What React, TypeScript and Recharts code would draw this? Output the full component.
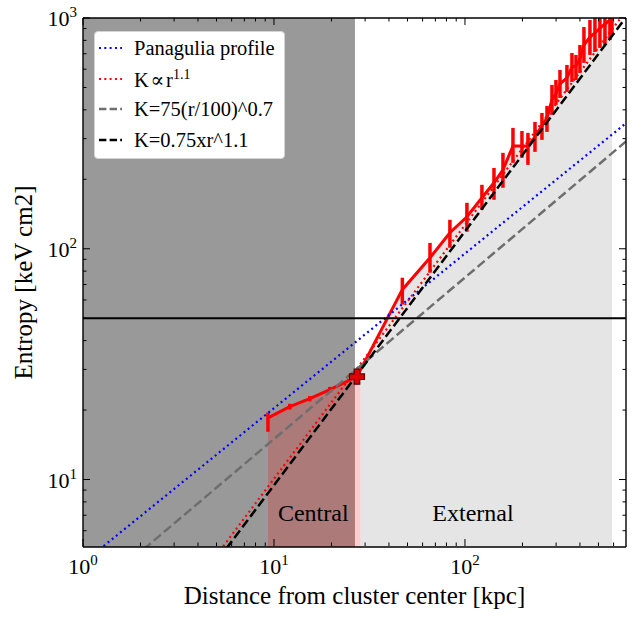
import React from 'react';
import {
  ComposedChart,
  Line,
  Area,
  XAxis,
  YAxis,
  ErrorBar,
  Scatter,
  ReferenceDot,
  Legend,
} from 'recharts';

const SERIF = '"Liberation Serif", "Times New Roman", "DejaVu Serif", serif';

// Axis ranges: radius in kpc, entropy in keV cm^2
const R_RANGE: [number, number] = [1, 697];
const K_RANGE: [number, number] = [5.1, 1000];

const xTicks = [
  1, 2, 3, 4, 5, 6, 7, 8, 9, 10, 20, 30, 40, 50, 60, 70, 80, 90, 100, 200, 300, 400, 500, 600,
];
const yTicks = [
  6, 7, 8, 9, 10, 20, 30, 40, 50, 60, 70, 80, 90, 100, 200, 300, 400, 500, 600, 700, 800, 900, 1000,
];

// Measured entropy profile
const radius = [
  9.3, 12.1, 15.4, 19.6, 27.2, 47.0, 65.6, 83.4, 102.4, 122.7, 141.9, 158.1, 178.4, 198.8, 213.7,
  232.6, 253.0, 268.8, 285.5, 299.5, 314.4, 342.0, 363.3, 381.3, 400.0, 419.8, 451.3, 479.3, 509.0,
  540.8, 574.3, 588.5,
];
const entropy = [
  18.5, 20.7, 22.4, 24.5, 27.9, 66.5, 91.4, 117.3, 137.6, 166.3, 193.1, 219.8, 279.1, 279.0, 279.0,
  305.3, 340.8, 369.1, 441.6, 468.8, 518.1, 550.0, 613.7, 619.8, 664.6, 764.0, 827.6, 861.0, 905.0,
  942.0, 980.0, 1000.0,
];
const entropyLow = [
  16.1, 20.1, 21.8, 23.8, 27.1, 57.3, 78.7, 101.0, 118.5, 147.5, 163.0, 183.8, 235.6, 247.7, 231.0,
  263.0, 296.4, 321.0, 380.2, 420.2, 450.4, 478.2, 528.4, 539.0, 578.0, 639.0, 691.6, 712.6, 741.8,
  764.0, 803.0, 844.0,
];
const entropyHigh = [
  19.5, 21.3, 23.0, 25.2, 28.7, 74.9, 106.0, 133.5, 158.2, 189.3, 224.0, 260.4, 334.0, 324.0, 318.0,
  354.6, 387.8, 415.9, 512.9, 539.0, 595.6, 626.0, 705.5, 691.6, 764.0, 914.0, 980.0, 1000.0, 1000.0,
  1000.0, 1000.0, 1000.0,
];

// Shaded regions
const coreRadius = [0.5, 26.55];
const centralFillR = [9.3, 12.1, 15.4, 19.6, 27.2, 28.3];
const centralFillK = [18.5, 20.7, 22.4, 24.5, 27.9, 29.7];
const externalStartR = 28.3;
const externalStartK = 29.7;

// Model curves (end points over the plotted range)
const panaguliaR = [1, 697];
const panaguliaK = [4.36, 350];
const slopeFitR = [1, 697];
const slopeFitK = [0.8, 1073];
const baselineR = [1, 697];
const baselineK = [2.99, 292];
const scaledR = [1, 697];
const scaledK = [0.75, 1007];
const floorR = [0.5, 800];
const floorK = [50, 50];

// Boundary marker
const markerR = [27.2];
const markerK = [27.9];

const FLOOR = 1;
const CEIL = 5000;

const profileRows = radius.map((r, i) => ({
  r,
  K: entropy[i],
  err: [entropy[i] - entropyLow[i], entropyHigh[i] - entropy[i]],
}));
const coreRows = coreRadius.map((r) => ({ r, band: [FLOOR, CEIL] }));
const centralRows = centralFillR.map((r, i) => ({ r, band: [FLOOR, centralFillK[i]] }));
const externalRows = [
  { r: externalStartR, band: [FLOOR, externalStartK] },
  ...radius.slice(5).map((r, i) => ({ r, band: [FLOOR, entropy[i + 5]] })),
];
const toRows = (rs: number[], ks: number[]) => rs.map((r, i) => ({ r, K: ks[i] }));
const panaguliaRows = toRows(panaguliaR, panaguliaK);
const slopeFitRows = toRows(slopeFitR, slopeFitK);
const baselineRows = toRows(baselineR, baselineK);
const scaledRows = toRows(scaledR, scaledK);
const floorRows = toRows(floorR, floorK);
const markerRows = toRows(markerR, markerK);

const legendEntries = [
  { text: 'Panagulia profile', sup: '', color: '#0000ff', dash: '2 3.3', width: 2.2 },
  { text: 'K\u200a\u221d\u200ar', sup: '1.1', color: '#ff0000', dash: '2 3.3', width: 2.2 },
  { text: 'K=75(r/100)^0.7', sup: '', color: '#6e6e6e', dash: '7.4 3.2', width: 2.5 },
  { text: 'K=0.75xr^1.1', sup: '', color: '#000000', dash: '7.4 3.2', width: 2.5 },
];

const isDecade = (v: number) => Math.abs(Math.log10(v) - Math.round(Math.log10(v))) < 1e-6;
const MAJOR = 7;
const MINOR = 3.5;

const PowerLabel = ({ x, y, v, anchor }: { x: number; y: number; v: number; anchor: string }) => (
  <text x={x} y={y} textAnchor={anchor} fontFamily={SERIF} fontSize={22} fill="#000">
    10
    <tspan dy={-9} fontSize={15}>
      {Math.round(Math.log10(v))}
    </tspan>
  </text>
);

// Axis boxes are 1px thick; tick coordinates are shifted back onto the frame line.
const BottomTick = (p: any) => {
  const major = isDecade(p.payload.value);
  const y = p.y - 1;
  return (
    <g>
      <line x1={p.x} x2={p.x} y1={y} y2={y - (major ? MAJOR : MINOR)} stroke="#000" strokeWidth={1} />
      {major && <PowerLabel x={p.x} y={y + 28} v={p.payload.value} anchor="middle" />}
    </g>
  );
};
const TopTick = (p: any) => {
  const major = isDecade(p.payload.value);
  return <line x1={p.x} x2={p.x} y1={p.y} y2={p.y + (major ? MAJOR : MINOR)} stroke="#000" strokeWidth={1} />;
};
const LeftTick = (p: any) => {
  const major = isDecade(p.payload.value);
  return (
    <g>
      <line x1={p.x} x2={p.x + (major ? MAJOR : MINOR)} y1={p.y} y2={p.y} stroke="#000" strokeWidth={1} />
      {major && <PowerLabel x={p.x - 6} y={p.y + 8} v={p.payload.value} anchor="end" />}
    </g>
  );
};
const RightTick = (p: any) => {
  const major = isDecade(p.payload.value);
  return <line x1={p.x} x2={p.x - (major ? MAJOR : MINOR)} y1={p.y} y2={p.y} stroke="#000" strokeWidth={1} />;
};

const PlusMarker = (props: any) => {
  const { cx, cy } = props;
  const a = 7.5;
  const t = 2.8;
  const d = `M${cx - t},${cy - a} H${cx + t} V${cy - t} H${cx + a} V${cy + t} H${cx + t} V${cy + a} H${cx - t} V${cy + t} H${cx - a} V${cy - t} H${cx - t} Z`;
  return <path d={d} fill="#e00000" stroke="#5a0000" strokeWidth={1.2} />;
};

const LegendBox = () => (
  <div
    style={{
      width: 191,
      height: 128,
      boxSizing: 'border-box',
      background: '#ffffff',
      border: '1px solid #d4d4d4',
      borderRadius: 4,
      paddingTop: 1,
      fontFamily: SERIF,
      fontSize: 20.5,
      lineHeight: 1,
      color: '#000',
    }}
  >
    {legendEntries.map((e) => (
      <div key={e.text} style={{ height: 30.5, display: 'flex', alignItems: 'center' }}>
        <svg width={39} height={10} style={{ flex: 'none' }}>
          <line x1={4} x2={27} y1={5} y2={5} stroke={e.color} strokeWidth={e.width} strokeDasharray={e.dash} />
        </svg>
        <span style={{ whiteSpace: 'nowrap' }}>
          {e.text}
          {e.sup && <sup style={{ fontSize: 14, verticalAlign: 8 }}>{e.sup}</sup>}
        </span>
      </div>
    ))}
  </div>
);

const labelStyle = { fontSize: 25, fill: '#000', fontFamily: SERIF };

export default function App() {
  return (
    <div style={{ position: 'absolute', left: 0, top: 0 }}>
      <ComposedChart
        width={635}
        height={618}
        margin={{ top: 17, right: 8, bottom: 70, left: 82 }}
        style={{ fontFamily: SERIF }}
      >
        <XAxis
          xAxisId={0}
          dataKey="r"
          type="number"
          scale="log"
          domain={R_RANGE}
          allowDataOverflow
          ticks={xTicks}
          interval={0}
          height={1}
          tickSize={0}
          tickMargin={0}
          tickLine={false}
          tick={BottomTick}
          axisLine={{ stroke: '#000', strokeWidth: 1.4 }}
          label={{ value: 'Distance from cluster center [kpc]', position: 'bottom', offset: 38, ...labelStyle }}
        />
        <XAxis
          xAxisId="top"
          orientation="top"
          dataKey="r"
          type="number"
          scale="log"
          domain={R_RANGE}
          allowDataOverflow
          ticks={xTicks}
          interval={0}
          height={1}
          tickSize={0}
          tickMargin={0}
          tickLine={false}
          tick={TopTick}
          axisLine={{ stroke: '#000', strokeWidth: 1.4 }}
        />
        <YAxis
          yAxisId={0}
          type="number"
          scale="log"
          domain={K_RANGE}
          allowDataOverflow
          ticks={yTicks}
          interval={0}
          width={1}
          tickSize={0}
          tickMargin={0}
          tickLine={false}
          tick={LeftTick}
          axisLine={{ stroke: '#000', strokeWidth: 1.4 }}
          label={{
            value: 'Entropy [keV cm2]',
            angle: -90,
            position: 'left',
            offset: 59,
            ...labelStyle,
            style: { textAnchor: 'middle' },
          }}
        />
        <YAxis
          yAxisId="right"
          orientation="right"
          type="number"
          scale="log"
          domain={K_RANGE}
          allowDataOverflow
          ticks={yTicks}
          interval={0}
          width={1}
          tickSize={0}
          tickMargin={0}
          tickLine={false}
          tick={RightTick}
          axisLine={{ stroke: '#000', strokeWidth: 1.4 }}
        />

        {/* shaded regions */}
        <Area data={coreRows} dataKey="band" type="linear" stroke="none" fill="#999999" fillOpacity={1} isAnimationActive={false} />
        <Area data={externalRows} dataKey="band" type="linear" stroke="none" fill="#e5e5e5" fillOpacity={1} isAnimationActive={false} />
        <Area data={centralRows} dataKey="band" type="linear" stroke="none" fill="#ff0000" fillOpacity={0.2} isAnimationActive={false} />

        {/* measured profile */}
        <Line data={profileRows} dataKey="K" type="linear" stroke="#ff0000" strokeWidth={3} dot={false} activeDot={false} isAnimationActive={false}>
          <ErrorBar dataKey="err" direction="y" width={0} stroke="#ff0000" strokeWidth={3.5} />
        </Line>

        {/* models */}
        <Line data={panaguliaRows} dataKey="K" type="linear" stroke="#0000ff" strokeWidth={2.2} strokeDasharray="2 3.3" dot={false} activeDot={false} isAnimationActive={false} />
        <Line data={slopeFitRows} dataKey="K" type="linear" stroke="#ff0000" strokeWidth={2.2} strokeDasharray="2 3.3" dot={false} activeDot={false} isAnimationActive={false} />
        <Line data={baselineRows} dataKey="K" type="linear" stroke="#6e6e6e" strokeWidth={2.5} strokeDasharray="9.25 4" dot={false} activeDot={false} isAnimationActive={false} />
        <Line data={scaledRows} dataKey="K" type="linear" stroke="#000000" strokeWidth={2.5} strokeDasharray="9.25 4" dot={false} activeDot={false} isAnimationActive={false} />
        <Line data={floorRows} dataKey="K" type="linear" stroke="#000000" strokeWidth={2} dot={false} activeDot={false} isAnimationActive={false} />

        <Scatter data={markerRows} dataKey="K" shape={PlusMarker} isAnimationActive={false} />

        <ReferenceDot x={16.06} y={7.2} r={2} fill="none" stroke="none" label={{ value: 'Central', position: 'center', fontSize: 24, fill: '#000', fontFamily: SERIF }} />
        <ReferenceDot x={110.2} y={7.2} r={2} fill="none" stroke="none" label={{ value: 'External', position: 'center', fontSize: 24, fill: '#000', fontFamily: SERIF }} />

        <Legend
          layout="vertical"
          align="center"
          verticalAlign="middle"
          content={LegendBox}
          wrapperStyle={{ left: 94, top: 31, width: 191, height: 128 }}
        />
      </ComposedChart>
    </div>
  );
}
